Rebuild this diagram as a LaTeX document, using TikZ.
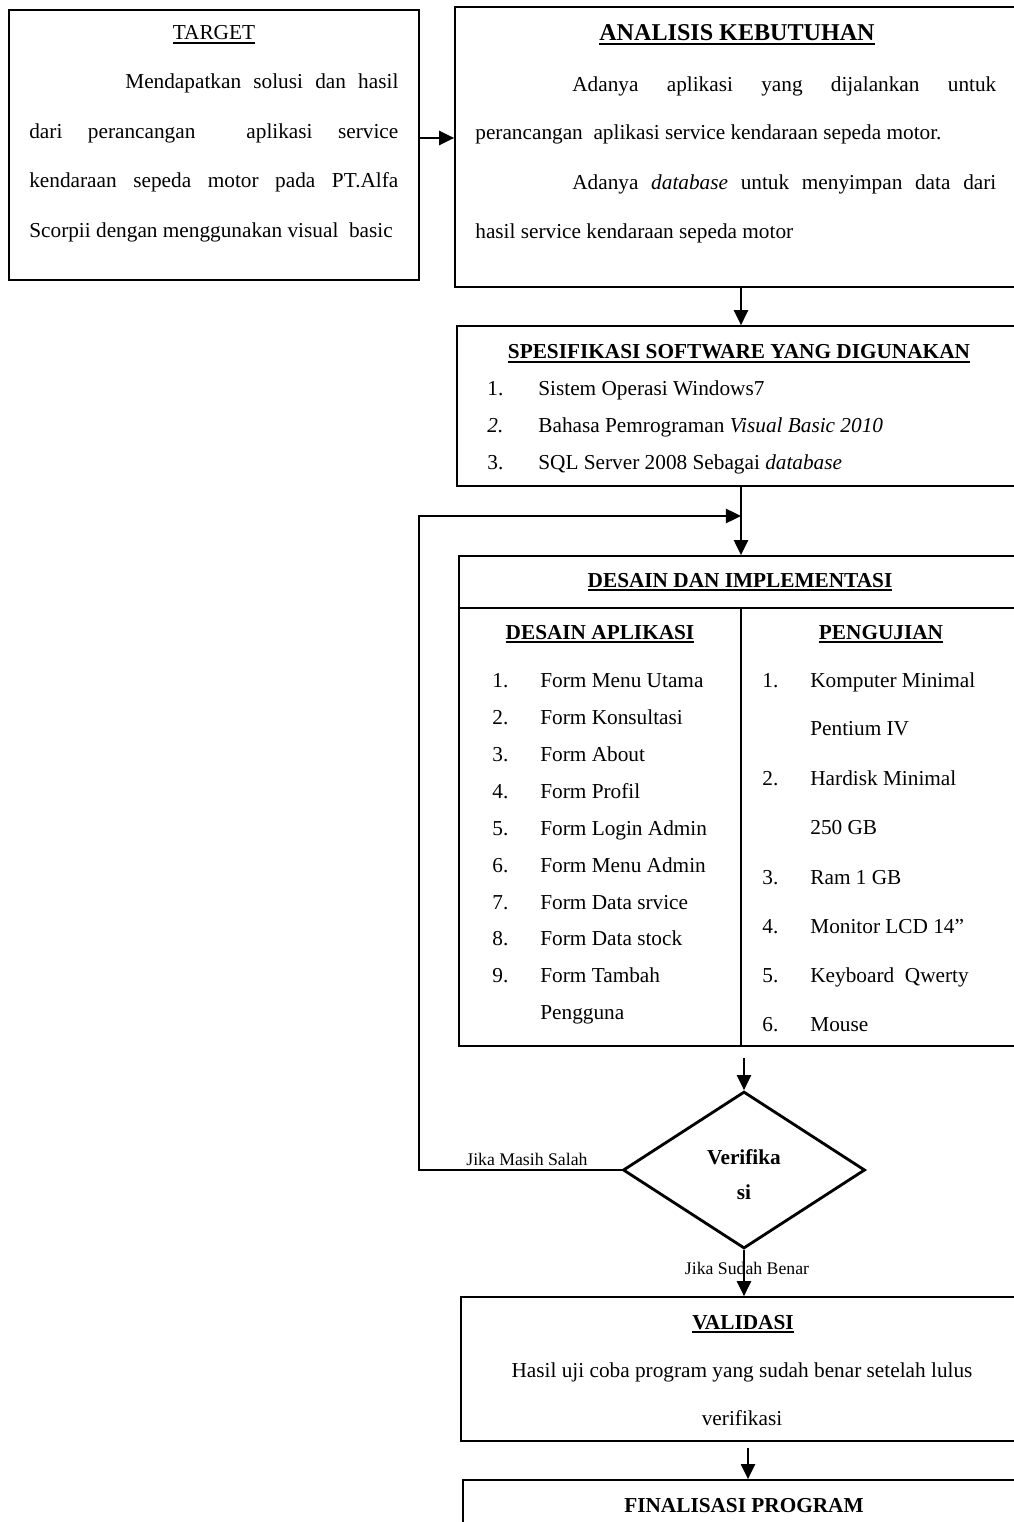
\documentclass[tikz,border=0pt]{standalone}
\usepackage{fontspec}
\setmainfont{Liberation Serif}
\usetikzlibrary{arrows.meta,shapes.geometric}
\newcommand{\myul}[1]{\leavevmode\setbox0\hbox{#1}\rlap{\rule[-2.2pt]{\wd0}{0.8pt}}\box0}
\begin{document}
\begin{tikzpicture}[x=0.564pt,y=-0.564pt,
  box/.style={draw,line width=1pt,inner sep=0pt,rectangle},
  arr/.style={line width=1.1pt,-{Triangle[length=8.5pt,width=8pt]}},
  thin/.style={line width=0.8pt},
  tx/.style={inner sep=0pt,font=\fontsize{12}{14}\selectfont},
  tl/.style={tx,anchor=base west},
  tc/.style={tx,anchor=base},
  bc/.style={inner sep=0pt,anchor=base,font=\fontsize{12}{14}\selectfont\bfseries},
  sm/.style={inner sep=0pt,font=\fontsize{10}{12}\selectfont}]
\clip (0,0) rectangle (1014,1522);
\fill[white] (0,0) rectangle (1014,1522);

% ---------- boxes ----------
\node[box,minimum width=231.2pt,minimum height=152.3pt] (tg) at (214,145) {};
\node[box,minimum width=322.6pt,minimum height=157.9pt] (an) at (741,147) {};
\node[box,minimum width=320.4pt,minimum height=90.2pt] (sp) at (741,406) {};
\node[box,minimum width=318.1pt,minimum height=276.4pt] (di) at (741,801) {};
\node[draw,diamond,line width=1.6pt,inner sep=0pt,minimum width=136.5pt,minimum height=88.5pt] (vf) at (744,1170) {};
\node[box,minimum width=319.2pt,minimum height=81.2pt] (va) at (744,1369) {};
\node[box,minimum width=321.5pt,minimum height=67.7pt] (fi) at (748,1540) {};

% ---------- TARGET ----------
\node[tc] (tgh) at (214,40) {\myul{TARGET}};
\node[tl] (tg1) at (125,89) {\makebox[154pt][s]{Mendapatkan solusi dan hasil}};
\node[tl] (tg2) at (29,139) {\makebox[208.1pt][s]{dari perancangan\ \ aplikasi service}};
\node[tl] (tg3) at (29,188) {\makebox[208.1pt][s]{kendaraan sepeda motor pada PT.Alfa}};
\node[tl] (tg4) at (29,238) {Scorpii dengan menggunakan visual\ \ basic};

% ---------- ANALISIS ----------
\node[bc,font=\fontsize{13.6}{16}\selectfont\bfseries] (anh) at (737,41) {\myul{ANALISIS KEBUTUHAN}};
\node[tl] (an1) at (572,92) {\makebox[239.1pt][s]{Adanya aplikasi yang dijalankan untuk}};
\node[tl] (an2) at (475,140) {perancangan\ \ aplikasi service kendaraan sepeda motor.};
\node[tl] (an3) at (572,190) {\makebox[239.1pt][s]{Adanya \textit{database} untuk menyimpan data dari}};
\node[tl] (an4) at (475,239) {hasil service kendaraan sepeda motor};

% ---------- SPESIFIKASI ----------
\node[bc] (sph) at (739,359) {\myul{SPESIFIKASI SOFTWARE YANG DIGUNAKAN}};
\node[tl] (sp1n) at (487,395) {1.};
\node[tl] (sp1) at (538,395) {Sistem Operasi Windows7};
\node[tl] (sp2n) at (487,432) {\textit{2.}};
\node[tl] (sp2) at (538,432) {Bahasa Pemrograman \textit{Visual Basic 2010}};
\node[tl] (sp3n) at (487,469) {3.};
\node[tl] (sp3) at (538,469) {SQL Server 2008 Sebagai \textit{database}};

% ---------- DESAIN DAN IMPLEMENTASI ----------
\coordinate (hl) at (0,608);
\draw[line width=1pt] (di.west |- hl) -- (di.east |- hl);
\draw[line width=1pt] (di.center |- hl) -- (di.south);
\node[bc] (dih) at (740,587) {\myul{DESAIN DAN IMPLEMENTASI}};
\node[bc] (dal) at (600,639) {\myul{DESAIN APLIKASI}};
\node[bc] (dar) at (881,639) {\myul{PENGUJIAN}};

\foreach \n/\t/\y [count=\i] in {1./Form Menu Utama/687, 2./Form Konsultasi/724, 3./Form About/761,
  4./Form Profil/798, 5./Form Login Admin/835, 6./Form Menu Admin/872, 7./Form Data srvice/909,
  8./Form Data stock/945, 9./Form Tambah/982}{
  \node[tl] (ln\i) at (492,\y) {\n};
  \node[tl] (lt\i) at (540,\y) {\t};
}
\node[tl] (lt10) at (540,1019) {Pengguna};

\foreach \n/\t/\y [count=\i] in {1./Komputer Minimal/687, 2./Hardisk Minimal/785, 3./Ram 1 GB/884,
  4./Monitor LCD 14”/933, 5./Keyboard\ \ Qwerty/982, 6./Mouse/1031}{
  \node[tl] (rn\i) at (762,\y) {\n};
  \node[tl] (rt\i) at (810,\y) {\t};
}
\node[tl] (rx1) at (810,735) {Pentium IV};
\node[tl] (rx2) at (810,834) {250 GB};

% ---------- VERIFIKASI ----------
\node[bc] (vf1) at (744,1164) {Verifika};
\node[bc] (vf2) at (744,1199) {si};
\node[sm,anchor=base west] (jm) at (466,1165) {Jika Masih Salah};
\node[sm,anchor=base] (js) at (747,1274) {Jika Sudah Benar};

% ---------- VALIDASI ----------
\node[bc] (vah) at (743,1329) {\myul{VALIDASI}};
\node[tc] (va1) at (742,1377) {Hasil uji coba program yang sudah benar setelah lulus};
\node[tc] (va2) at (742,1425) {verifikasi};

% ---------- FINALISASI ----------
\node[bc] (fih) at (744,1512) {FINALISASI PROGRAM};

% ---------- connectors ----------
\coordinate (ya) at (0,138);
\draw[arr] (tg.east |- ya) -- (an.west |- ya);
\draw[arr] (an.south) -- (sp.north);
\draw[arr] (sp.south) -- (di.north);
\coordinate (fb) at (419,516);
\draw[thin] (vf.west) -| (fb);
\draw[arr] ([xshift=-0.5pt]fb) -- (fb -| di.north);
\draw[arr,shorten <=6.2pt] (di.south -| vf.north) -- (vf.north);
\draw[arr] (vf.south) -- (va.north -| vf.south);
\draw[arr,shorten <=3.4pt] (va.south -| fi.north) -- (fi.north);
\end{tikzpicture}
\end{document}
